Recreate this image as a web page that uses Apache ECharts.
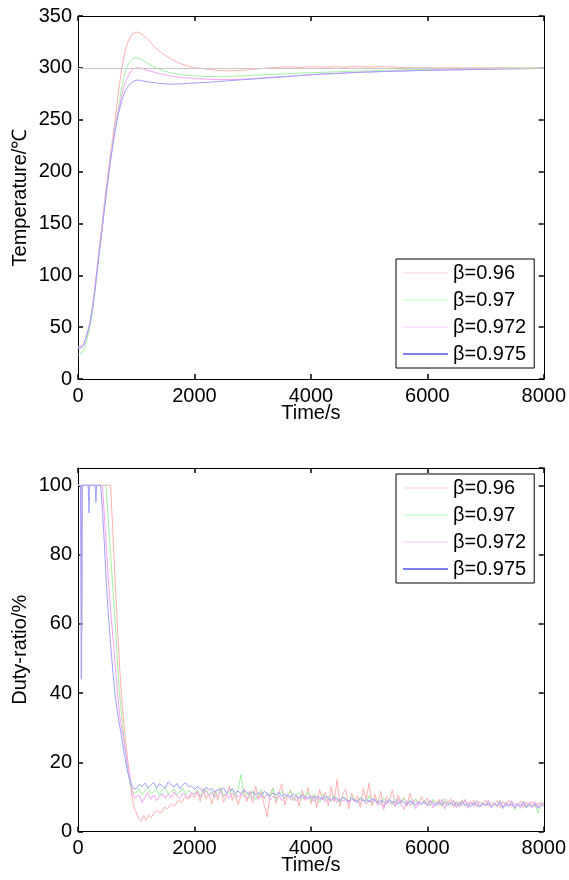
<!DOCTYPE html>
<html><head><meta charset="utf-8">
<script src="https://cdn.jsdelivr.net/npm/echarts@6/dist/echarts.min.js"></script>
<style>html,body{margin:0;padding:0;background:#fff}#c{width:569px;height:880px}</style>
</head><body><div id="c"></div>
<script>
// ---------- data ----------
const seriesNames = ['β=0.96', 'β=0.97', 'β=0.972', 'β=0.975'];
const setpoint = 300;
const xTicks = [0, 2000, 4000, 6000, 8000];

// temperature (top plot): shared time base
const tTemp = [0,50,100,150,200,250,300,350,400,450,500,550,600,650,700,750,800,850,900,950,1000,1050,1100,
  1200,1300,1400,1500,1600,1700,1800,1900,2000,
  2200,2400,2600,2800,3000,3200,3400,3600,3800,4000,4200,4400,4600,4800,5000,5200,5400,5600,5800,6000,6200,6400,6600,6800,7000,7200,7400,7600,7800,8000];
const tempB096 = [30,30,33,42,53,70,93,119,143,168,192,214,234,256,279,299,314,324,330,333.5,334.5,334,332.3,
  327.5,321,316,312,308.6,305.6,303.2,301.6,300.3,
  298.8,297.6,297.1,297.6,298.6,299.6,300.3,300.8,300.4,301.1,300.6,301.2,300.7,301.3,300.8,301.2,300.9,300.2,300,300,300,300,300,300,300,300,300,300,300,300];
const tempB097 = [23,24,28,37,49,65,88,114,138,162,186,209,229,247,263,281,294,302,307,309.5,310,309.3,307.8,
  304.2,301,298.6,296.6,295.1,294,293.2,292.6,292.2,
  291.7,291.5,291.8,292.2,292.8,293.4,293.9,294.4,294.9,295.3,295.7,296.1,296.5,296.9,297.2,297.5,297.8,298.1,298.4,298.7,298.9,299.1,299.2,299.4,299.5,299.6,299.7,299.8,299.9,300];
const tempB0972 = [31,31,34,42,53,69,91,116,139,163,186,208,227,245,260,273,284,291,296,299,300,300,299.2,
  297.6,296,294.5,293.2,292.2,291.3,290.6,290.1,289.7,
  289.1,288.7,288.7,289.1,289.6,290.4,291.1,291.9,292.7,293.5,294.1,294.7,295.2,295.7,296.1,296.5,296.8,297.1,297.4,297.7,297.9,298.1,298.3,298.5,298.7,298.9,299.1,299.2,299.4,299.6];
const tempB0975 = [30,30,33,42,52,68,90,115,138,162,185,207,226,243,257,268,276,281.5,285,287,288,288.2,287.5,
  286.5,285.8,285,284.6,284.2,284.5,284.6,285,285.3,
  286,286.8,287.6,288.5,289.2,290,290.9,291.6,292.5,293.3,294,294.4,295,295.6,296,296.3,296.7,297,297.3,297.6,297.8,298,298.2,298.4,298.6,298.8,299,299.1,299.3,299.5];

// duty ratio (bottom plot): early transient points [t, %]
const dutyEarly096 = [[0,100],[560,100],[600,86],[650,68],[700,52],[742,40],[800,29],[850,21],[885,16.5],[920,11],[960,7],[1000,5.5],[1040,3.8],[1085,3.0],[1130,4.6],[1170,3.2],[1210,4.8],[1260,4.0],[1310,5.6],[1370,6.0],[1420,5.2],[1480,7.0],[1540,6.6],[1600,8.0],[1660,7.4],[1720,9.0],[1780,8.4],[1840,10.0],[1900,9.4],[1960,10.6]];
const dutyEarly097 = [[0,100],[55,100],[65,58],[80,100],[480,100],[520,90],[560,80],[600,70],[640,60],[680,48],[713,40],[760,32],[810,24],[860,17],[910,12.5],[960,11]];
const dutyEarly0972 = [[0,100],[50,100],[62,46],[75,100],[420,100],[450,92],[480,84],[520,73],[560,64],[600,56],[640,48],[680,40],[720,33],[780,27],[840,21],[900,15],[942,11],[980,9.5]];
const dutyEarly0975 = [[0,100],[45,100],[57,44],[70,100],[175,100],[188,92],[200,100],[295,100],[308,95],[320,100],[388,100],[420,93],[450,84],[485,72],[520,63],[560,54],[600,46],[640,39],[690,33],[742,28],[800,22],[856,17],[913,13.5],[960,12.3]];

// duty ratio steady part: time base 1000..8000 (step 50) and read values
const tDutyTail = [1000,1050,1100,1150,1200,1250,1300,1350,1400,1450,1500,1550,1600,1650,1700,1750,1800,1850,1900,1950,
  2000,2050,2100,2150,2200,2250,2300,2350,2400,2450,2500,2550,2600,2650,2700,2750,2800,2850,2900,2950,
  3000,3050,3100,3150,3200,3250,3300,3350,3400,3450,3500,3550,3600,3650,3700,3750,3800,3850,3900,3950,
  4000,4050,4100,4150,4200,4250,4300,4350,4400,4450,4500,4550,4600,4650,4700,4750,4800,4850,4900,4950,
  5000,5050,5100,5150,5200,5250,5300,5350,5400,5450,5500,5550,5600,5650,5700,5750,5800,5850,5900,5950,
  6000,6050,6100,6150,6200,6250,6300,6350,6400,6450,6500,6550,6600,6650,6700,6750,6800,6850,6900,6950,
  7000,7050,7100,7150,7200,7250,7300,7350,7400,7450,7500,7550,7600,7650,7700,7750,7800,7850,7900,7950,8000];
const dutyTail096 = [null,null,null,null,null,null,null,null,null,null,null,null,null,null,null,null,null,null,null,null,
  9.8,11.6,8.7,12.3,9.4,10.8,7.9,11.9,9.1,12.8,8.4,10.6,13.1,9.0,11.2,7.8,10.5,12.4,8.6,11.7,
  8.3,13.0,9.6,11.4,7.5,4.2,10.9,12.6,8.1,11.0,13.8,7.6,10.2,12.1,8.8,10.6,7.3,11.8,9.4,12.7,
  8.0,10.7,6.9,12.2,9.1,11.4,7.4,13.0,8.5,15.0,7.2,10.9,12.3,6.5,11.1,8.7,10.4,7.0,12.5,9.3,
  14.0,7.4,10.8,8.2,11.6,6.8,10.1,9.0,12.0,7.1,10.5,8.4,9.8,7.3,11.0,8.6,9.4,7.5,10.2,8.0,
  9.6,7.4,8.9,7.9,9.3,7.2,8.7,8.1,9.5,7.0,8.8,7.6,9.2,7.3,8.5,7.9,9.0,7.1,8.6,7.7,
  9.1,7.2,8.4,7.8,8.9,7.0,8.6,7.5,9.0,7.3,8.2,7.7,8.8,6.9,8.5,7.4,8.7,7.1,8.3,7.6,8.0];
const dutyTail097 = [11.2,12.4,10.6,11.8,12.7,10.9,11.5,12.3,10.4,11.9,12.6,10.8,11.6,12.2,10.5,11.3,12.5,10.7,11.8,11.1,
  10.9,12.0,10.3,11.4,12.1,10.6,11.7,10.1,11.9,12.6,10.2,11.3,10.8,12.4,9.9,12.0,16.5,10.4,11.1,9.6,
  11.8,9.2,10.9,12.1,9.5,11.3,10.0,12.4,9.1,10.8,11.6,9.4,10.5,11.9,8.9,10.7,11.2,9.3,10.4,11.5,
  8.8,10.6,9.7,8.4,10.9,9.1,10.2,8.6,10.5,9.4,8.3,10.1,9.6,8.7,10.4,9.0,8.2,9.9,9.3,8.5,
  10.3,8.0,9.6,8.8,7.7,9.8,8.4,9.2,7.6,9.5,8.6,7.9,9.7,8.1,9.0,7.5,9.4,8.3,7.8,9.1,
  8.2,7.4,9.3,7.9,8.8,7.2,9.5,8.0,7.6,9.1,7.3,8.6,7.8,9.2,7.1,8.4,7.7,9.0,7.0,8.5,
  7.6,8.9,7.1,8.3,7.5,9.0,6.8,8.2,7.4,8.7,6.2,8.0,7.3,8.8,6.9,8.4,7.2,8.1,5.2,8.6,8.2];
const dutyTail0972 = [9.0,10.6,8.4,9.8,11.2,9.3,10.5,8.9,10.1,11.0,9.6,10.8,9.9,11.4,10.2,9.5,11.1,10.4,9.8,11.3,
  10.6,11.5,10.0,10.9,11.7,10.3,11.2,9.8,10.7,11.4,10.1,10.9,9.6,11.1,10.4,9.9,10.8,10.2,9.5,10.6,
  9.8,10.7,9.3,10.4,9.7,10.9,9.1,10.2,9.6,10.5,8.9,9.9,10.6,9.2,10.1,8.8,9.7,10.3,9.0,9.5,
  9.9,8.7,9.6,9.1,10.2,8.5,9.4,8.9,9.8,8.3,9.5,8.8,9.2,8.1,9.7,8.6,9.0,8.4,9.3,7.9,
  9.1,8.2,9.5,7.6,8.8,6.3,9.2,8.0,8.7,7.1,9.4,7.8,6.4,8.9,7.5,9.0,6.6,8.5,7.7,8.9,
  7.2,9.1,6.8,8.4,7.6,9.3,6.5,8.7,7.9,9.0,6.9,8.3,7.4,9.2,6.7,8.6,7.3,8.9,7.0,8.2,
  7.6,9.0,6.8,8.4,7.2,8.8,6.6,8.5,7.4,8.9,7.0,8.2,6.7,8.7,7.3,8.4,6.9,8.6,7.1,8.3,8.0];
const dutyTail0975 = [12.4,13.6,12.9,14.0,12.7,13.3,14.2,12.5,13.8,13.1,12.6,14.3,13.4,12.8,13.9,12.3,13.5,14.1,12.9,13.2,
  12.1,13.0,12.4,11.6,12.8,11.9,12.5,11.3,12.2,11.8,12.6,11.1,11.9,12.3,11.2,11.7,10.9,12.0,11.4,10.8,
  11.5,10.7,11.2,10.4,11.6,10.9,10.3,11.1,10.6,11.3,10.1,10.8,10.4,9.9,10.9,10.2,9.7,10.6,10.0,9.6,
  10.4,9.5,10.1,9.8,9.2,10.3,9.6,9.0,9.9,9.4,8.9,9.8,9.3,8.7,9.6,9.1,8.6,9.5,8.8,9.2,
  8.5,9.4,8.9,8.3,9.1,8.6,8.0,9.2,8.4,8.7,7.9,8.9,8.3,7.8,8.8,8.2,7.7,8.6,8.0,8.5,
  7.8,8.7,8.1,7.5,8.5,7.9,8.3,7.4,8.4,7.7,8.2,7.3,8.6,7.6,8.0,7.2,8.3,7.8,7.1,8.1,
  7.5,8.2,7.0,7.9,7.4,8.3,6.9,7.8,7.3,8.0,6.8,7.7,7.5,8.1,6.9,7.6,7.2,8.0,6.7,7.4,7.6];

// ---------- styles ----------
const lineColors = ['#ffb0b0', '#a4f0a4', '#f4a4f4', '#a0a0ff'];
const legendColors = ['#ffd0d8', '#b8ffb8', '#ffc8ff', '#0000e0'];
const FONT = '"Liberation Sans", Arial, sans-serif';
const FS = 20;

function pairs(ts, vs) { return ts.map((t, i) => [t, vs[i]]).filter(p => p[1] != null); }
function joinDuty(early, tail) { return early.concat(pairs(tDutyTail, tail)); }

const tempSeries = [tempB096, tempB097, tempB0972, tempB0975];
const dutySeries = [
  joinDuty(dutyEarly096, dutyTail096),
  joinDuty(dutyEarly097, dutyTail097),
  joinDuty(dutyEarly0972, dutyTail0972),
  joinDuty(dutyEarly0975, dutyTail0975)
];

const grids = [
  { left: 78, top: 16, width: 467, height: 363 },
  { left: 78, top: 468, width: 467, height: 363.5 }
];

const axisLineStyle = { show: true, onZero: false, lineStyle: { color: '#000', width: 1 } };
const tickStyle = { show: true, inside: true, length: 5, lineStyle: { color: '#000', width: 1.5 } };
const labelStyle = { color: '#000', fontSize: FS, fontFamily: FONT, formatter: v => String(v) };

const xAxis = [], yAxis = [];
[0, 1].forEach(gi => {
  xAxis.push({ type: 'value', gridIndex: gi, min: xTicks[0], max: xTicks[xTicks.length - 1], interval: 2000,
    axisLine: axisLineStyle, axisTick: tickStyle, splitLine: { show: false },
    axisLabel: Object.assign({ margin: 7 }, labelStyle),
    name: 'Time/s', nameLocation: 'middle', nameGap: 24, nameMoveOverlap: false,
    nameTextStyle: { color: '#000', fontSize: FS, fontFamily: FONT } });
  xAxis.push({ type: 'value', gridIndex: gi, position: 'top', min: 0, max: 8000, interval: 2000,
    axisLine: axisLineStyle, axisTick: tickStyle, splitLine: { show: false }, axisLabel: { show: false } });
});
yAxis.push({ type: 'value', gridIndex: 0, min: 0, max: 350, interval: 50,
  axisLine: axisLineStyle, axisTick: tickStyle, splitLine: { show: false },
  axisLabel: Object.assign({ margin: 6 }, labelStyle),
  name: 'Temperature/℃', nameLocation: 'middle', nameGap: 48, nameMoveOverlap: false,
  nameTextStyle: { color: '#000', fontSize: FS, fontFamily: FONT } });
yAxis.push({ type: 'value', gridIndex: 0, position: 'right', min: 0, max: 350, interval: 50,
  axisLine: axisLineStyle, axisTick: tickStyle, splitLine: { show: false }, axisLabel: { show: false } });
yAxis.push({ type: 'value', gridIndex: 1, min: 0, max: 105, interval: 20,
  axisLine: axisLineStyle, axisTick: tickStyle, splitLine: { show: false },
  axisLabel: Object.assign({ margin: 6, showMaxLabel: false }, labelStyle),
  name: 'Duty-ratio/%', nameLocation: 'middle', nameGap: 48, nameMoveOverlap: false,
  nameTextStyle: { color: '#000', fontSize: FS, fontFamily: FONT } });
yAxis.push({ type: 'value', gridIndex: 1, position: 'right', min: 0, max: 105, interval: 20,
  axisLine: axisLineStyle, axisTick: tickStyle, splitLine: { show: false }, axisLabel: { show: false } });

const series = [];
seriesNames.forEach((name, i) => {
  const s = { name, type: 'line', xAxisIndex: 0, yAxisIndex: 0, symbol: 'none', silent: true,
    data: pairs(tTemp, tempSeries[i]), lineStyle: { color: lineColors[i], width: 1 }, itemStyle: { color: lineColors[i] } };
  if (i === 0) {
    s.markLine = { silent: true, symbol: 'none', label: { show: false },
      lineStyle: { color: '#c8c8c8', width: 1, type: 'solid' }, data: [{ yAxis: setpoint }] };
  }
  series.push(s);
});
seriesNames.forEach((name, i) => {
  series.push({ name, type: 'line', xAxisIndex: 2, yAxisIndex: 2, symbol: 'none', silent: true,
    data: dutySeries[i], lineStyle: { color: lineColors[i], width: 1 }, itemStyle: { color: lineColors[i] } });
});

function legendAt(top) {
  return { orient: 'vertical', left: 396, top, padding: [4, 8, 4, 7], itemGap: 7,
    borderColor: '#000', borderWidth: 1, backgroundColor: '#fff',
    itemWidth: 45, itemHeight: 1, icon: 'rect', selectedMode: false,
    textStyle: { color: '#000', fontSize: FS, fontFamily: FONT, lineHeight: 20 },
    data: seriesNames.map((n, i) => ({ name: n, itemStyle: { color: legendColors[i] } })) };
}

const chart = echarts.init(document.getElementById('c'), null, { renderer: 'canvas' });
chart.setOption({
  animation: false,
  backgroundColor: '#fff',
  grid: grids,
  xAxis, yAxis, series,
  legend: [legendAt(259), legendAt(474)]
});
</script></body></html>
